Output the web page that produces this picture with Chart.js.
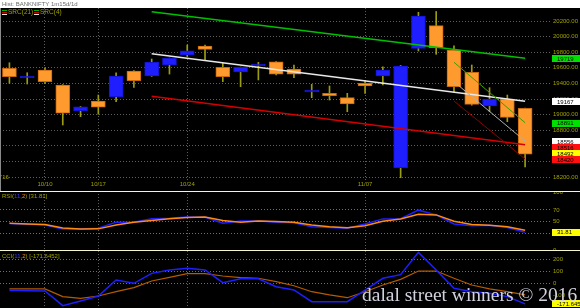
<!DOCTYPE html>
<html>
<head>
<meta charset="utf-8">
<script src="https://cdn.jsdelivr.net/npm/chart.js@4.4.0/dist/chart.umd.min.js"></script>
<style>
html, body { margin: 0; padding: 0; background: #000; overflow: hidden; }
#wrap { position: relative; width: 580px; height: 308px; background: #000; }
canvas { position: absolute; left: 0; }
#mainChart { top: 0; }
#rsiChart { top: 191px; }
#cciChart { top: 251px; }
.sep { position: absolute; left: 0; width: 580px; height: 1px; background: #f6f6cc; z-index: 2; }
#wm { position: absolute; left: 362px; top: 285px; font: 19.5px/19.5px "Liberation Serif", serif; color: #d2d2de; white-space: nowrap; z-index: 3; }
</style>
</head>
<body>
<div id="wrap">
  <canvas id="mainChart" width="580" height="191"></canvas>
  <canvas id="rsiChart" width="580" height="60"></canvas>
  <canvas id="cciChart" width="580" height="57"></canvas>
  <div class="sep" style="top:191px"></div>
  <div class="sep" style="top:250px"></div>
  <div id="wm">dalal street winners © 2016</div>
</div>
<script>
// daily bars, BANKNIFTY
const dates = ['10/06', '10/07', '10/10', '10/13', '10/14', '10/17', '10/18', '10/19', '10/20', '10/21',
    '10/24', '10/25', '10/26', '10/27', '10/28', '10/30', '11/01', '11/02', '11/03', '11/04',
    '11/07', '11/08', '11/09', '11/10', '11/11', '11/15', '11/16', '11/17', '11/18', '11/21'];
const opens = [19594, 19473, 19572, 19380, 19050, 19174, 19230, 19559, 19495, 19636,
    19764, 19880, 19606, 19546, 19627, 19678, 19585, 19290, 19273, 19217,
    19401, 19495, 18319, 19850, 20140, 19828, 19542, 19110, 19200, 19081];
const highs = [19665, 19537, 19601, 19385, 19105, 19251, 19537, 19565, 19713, 19725,
    19892, 19892, 19657, 19610, 19670, 19680, 19636, 19388, 19367, 19273,
    19435, 19614, 19630, 20312, 20322, 19883, 19636, 19345, 19251, 19085];
const lows = [19401, 19392, 19401, 18867, 18973, 19005, 19166, 19350, 19490, 19520,
    19745, 19700, 19422, 19358, 19444, 19510, 19473, 19217, 19187, 19037,
    19273, 19380, 18191, 19815, 19773, 19286, 19120, 19037, 18909, 18330];
const closes = [19486, 19490, 19422, 19017, 19101, 19094, 19495, 19435, 19670, 19722,
    19819, 19837, 19486, 19606, 19649, 19517, 19517, 19315, 19243, 19136,
    19367, 19572, 19623, 20264, 19858, 19358, 19132, 19200, 18965, 18492];

const rsiMain = [46.6, 45.5, 44.3, 37.4, 37.4, 38.6, 49, 49, 54.7, 55.8,
    58, 57.5, 47.2, 51.2, 51.2, 49, 48, 41, 40, 38.6,
    46, 54.6, 55, 69.6, 61.5, 46, 43, 43.7, 40, 31.81];
const rsiSignal = [47, 46, 45, 39, 37.4, 37.5, 44, 49, 52, 55,
    57, 58, 52, 49, 51, 50, 49, 44.3, 41, 39.5,
    43, 50.6, 54.6, 62.7, 61.5, 50.6, 45, 43.7, 41, 35];

const cciMain = [-61, -62, -64, -186, -147, -106, 27, 0, 83, 111,
    125, 111, 5, 38, 38, -28, -55, -153, -153, -153,
    -56, 42, 72, 258, 111, -42, -70, -83, -111, -171.6452];
const cciSignal = [-47, -47, -47, -111, -125, -106, -70, -36, 19, 50,
    80, 80, 61, 47, 42, 14, -20, -70, -97, -120,
    -70, -14, 33, 102, 102, 42, -14, -47, -70, -97];

// regression channels: first bar, last bar and line values there
const src21Bars = [8, 29];
const src21Upper = [20320, 19722];
const src21Mid = [19780, 19170];
const src21Lower = [19234, 18613];
const src4Bars = [25, 29];
const src4Upper = [19671, 18896];
const src4Mid = [19422, 18660];
const src4Lower = [19174, 18430];

const dateTicks = ['10/10', '10/17', '10/24', '11/07'];
const priceTicks = [18200, 18400, 18600, 18800, 19000, 19200, 19400, 19600, 19800, 20000, 20200];
const rsiTicks = [0, 30, 50, 70, 100];
const cciTicks = [-100, 0, 100, 200];

const priceTags = [19719, 19167, 18891, 18556, 18516, 18492, 18420];
const priceTagColors = ['#00e000', '#ffffff', '#00e000', '#ffffff', '#ff1010', '#ffff00', '#ff1010'];

const OLIVE = '#a0a000';
const GRID = '#5e5e5e';
const UP = '#1e1eff';
const DOWN = '#ff9a2e';

Chart.defaults.font.family = '"Liberation Sans", Arial, sans-serif';
Chart.defaults.font.size = 6;
Chart.defaults.color = OLIVE;
Chart.defaults.animation = false;

const bars = dates.map((d, i) => i);

function xAxis(showLabels) {
    return {
        type: 'linear',
        min: -0.53,
        max: 30.4,
        offset: false,
        grid: { color: GRID, drawTicks: false, offset: false },
        border: { display: false, dash: [1, 2] },
        ticks: {
            display: showLabels, padding: 1, autoSkip: false, maxRotation: 0, color: OLIVE,
            callback: (v, i) => dateTicks[i]
        },
        afterBuildTicks: s => { s.ticks = dateTicks.map(d => ({ value: dates.indexOf(d) })); },
        afterFit: s => { s.height = showLabels ? 11 : 0; s.paddingLeft = 0; s.paddingRight = 0; }
    };
}

function yAxis(min, max, ticks, fmt, gridColor) {
    return {
        position: 'right',
        min: min,
        max: max,
        grid: { color: gridColor, drawTicks: false },
        border: { display: false, dash: [1, 2] },
        ticks: { padding: 3, color: OLIVE, autoSkip: false, callback: fmt },
        afterBuildTicks: s => { s.ticks = ticks.map(v => ({ value: v })); },
        afterFit: s => { s.width = 30; s.paddingTop = 0; s.paddingBottom = 0; }
    };
}

function drawTag(ctx, y, color, text) {
    ctx.fillStyle = color;
    ctx.fillRect(552, Math.round(y - 3.5), 28, 7);
    ctx.fillStyle = '#000';
    ctx.font = '6px "Liberation Sans", Arial, sans-serif';
    ctx.textAlign = 'left';
    ctx.textBaseline = 'middle';
    ctx.fillText(text, 557, y + 0.5);
}

function drawParts(ctx, x, y, parts, size) {
    ctx.font = size + 'px "Liberation Sans", Arial, sans-serif';
    ctx.textAlign = 'left';
    ctx.textBaseline = 'middle';
    parts.forEach(p => {
        ctx.fillStyle = p[1];
        ctx.fillText(p[0], x, y);
        x += ctx.measureText(p[0]).width;
    });
}

function line(barsArr, vals, color, width) {
    return {
        type: 'line',
        data: barsArr.map((b, k) => ({ x: b, y: vals[k] })),
        borderColor: color,
        borderWidth: width,
        pointRadius: 0,
        fill: false,
        tension: 0
    };
}

const mainDeco = {
    id: 'mainDeco',
    beforeDraw(chart) {
        const ctx = chart.ctx;
        ctx.save();
        ctx.fillStyle = '#000';
        ctx.fillRect(0, 0, 580, 191);
        ctx.fillStyle = '#fff';
        ctx.fillRect(0, 0, 580, 8);
        drawParts(ctx, 2, 4, [['Hist: BANKNIFTY 1m15d/1d', '#6a6a6a']], 6);
        ctx.restore();
    },
    afterDraw(chart) {
        const ctx = chart.ctx;
        const y = chart.scales.y;
        ctx.save();
        ctx.fillStyle = '#8a8a8a';
        ctx.fillRect(0, 8, 1, 183);
        // legend icons
        [2, 34].forEach(x => {
            ctx.fillStyle = '#00b000'; ctx.fillRect(x, 10, 5, 1);
            ctx.fillStyle = '#d00000'; ctx.fillRect(x, 12, 5, 1);
            ctx.fillStyle = '#e0e0e0'; ctx.fillRect(x, 14, 5, 1);
        });
        drawParts(ctx, 8, 12.7, [['SRC(21)', OLIVE]], 6.5);
        drawParts(ctx, 40, 12.7, [['SRC(4)', OLIVE]], 6.5);
        drawParts(ctx, 1, 177, [["'16", OLIVE]], 6);
        // value tags, pushed up so they do not overlap
        const ys = priceTags.map(v => y.getPixelForValue(v));
        for (let i = ys.length - 2; i >= 0; i--) ys[i] = Math.min(ys[i], ys[i + 1] - 6);
        priceTags.forEach((v, i) => drawTag(ctx, ys[i], priceTagColors[i], String(v)));
        ctx.restore();
    }
};

new Chart(document.getElementById('mainChart'), {
    type: 'bar',
    data: {
        datasets: [
            line(src4Bars, src4Upper, '#3aa000', 1),
            line(src4Bars, src4Mid, '#b0b0b0', 1),
            line(src4Bars, src4Lower, '#900000', 1),
            line(src21Bars, src21Upper, '#00c000', 1.5),
            line(src21Bars, src21Mid, '#e8e8e8', 1.5),
            line(src21Bars, src21Lower, '#d40000', 1.5),
            {
                type: 'bar',
                data: bars.map(i => ({ x: i, y: [opens[i], closes[i]] })),
                barThickness: 14,
                grouped: false,
                backgroundColor: c => closes[c.dataIndex] >= opens[c.dataIndex] ? UP : DOWN,
                borderColor: c => closes[c.dataIndex] >= opens[c.dataIndex] ? '#1414d8' : '#c8680e',
                borderWidth: 1,
                borderSkipped: false
            },
            {
                type: 'bar',
                data: bars.map(i => ({ x: i, y: [lows[i], highs[i]] })),
                barThickness: 1,
                grouped: false,
                backgroundColor: '#9c9c10',
                borderWidth: 0
            }
        ]
    },
    options: {
        responsive: false,
        devicePixelRatio: 1,
        layout: { padding: { top: 8, left: 0, right: 0, bottom: 0 } },
        plugins: { legend: { display: false }, tooltip: { enabled: false } },
        scales: {
            x: xAxis(true),
            y: yAxis(18161.6, 20366.7, priceTicks, v => v.toFixed(2), GRID)
        }
    },
    plugins: [mainDeco]
});

function panel(id, series, colors, widths, min, max, ticks, gridSkip, title, tagText, tagValue) {
    const deco = {
        id: id + 'Deco',
        beforeDraw(chart) {
            chart.ctx.fillStyle = '#000';
            chart.ctx.fillRect(0, 0, chart.width, chart.height);
        },
        afterDraw(chart) {
            const ctx = chart.ctx;
            ctx.save();
            drawParts(ctx, 2, 5, title, 6);
            drawTag(ctx, chart.scales.y.getPixelForValue(tagValue), '#ffff00', tagText);
            ctx.restore();
        }
    };
    new Chart(document.getElementById(id), {
        type: 'line',
        data: {
            datasets: series.map((s, k) => ({
                data: bars.map(i => ({ x: i, y: s[i] })),
                borderColor: colors[k],
                borderWidth: widths[k],
                pointRadius: 0,
                tension: 0,
                fill: false
            }))
        },
        options: {
            responsive: false,
            devicePixelRatio: 1,
            layout: { padding: 0 },
            plugins: { legend: { display: false }, tooltip: { enabled: false } },
            scales: {
                x: xAxis(false),
                y: yAxis(min, max, ticks, v => String(v),
                    c => gridSkip.includes(c.tick.value) ? 'rgba(0,0,0,0)' : '#7c7c00')
            }
        },
        plugins: [deco]
    });
}

const rsiLast = rsiMain[rsiMain.length - 1];
const cciLast = cciMain[cciMain.length - 1];

panel('rsiChart', [rsiSignal, rsiMain], ['#ff8a10', '#1e1eff'], [1.5, 1.5],
    -0.5, 102.5, rsiTicks, [0, 100],
    [['RSI(', OLIVE], ['11', '#3a3aff'], [',', OLIVE], ['2', '#ff8a10'], [') [' + rsiLast + ']', OLIVE]],
    rsiLast.toFixed(2), rsiLast);

panel('cciChart', [cciMain, cciSignal], ['#1e1eff', '#b45a00'], [1.5, 1.2],
    -205.8, 269.2, cciTicks, [-100],
    [['CCI(', OLIVE], ['11', '#3a3aff'], [',', OLIVE], ['2', '#ff8a10'], [') [' + cciLast + ']', OLIVE]],
    cciLast.toFixed(3), cciLast);
</script>
</body>
</html>
